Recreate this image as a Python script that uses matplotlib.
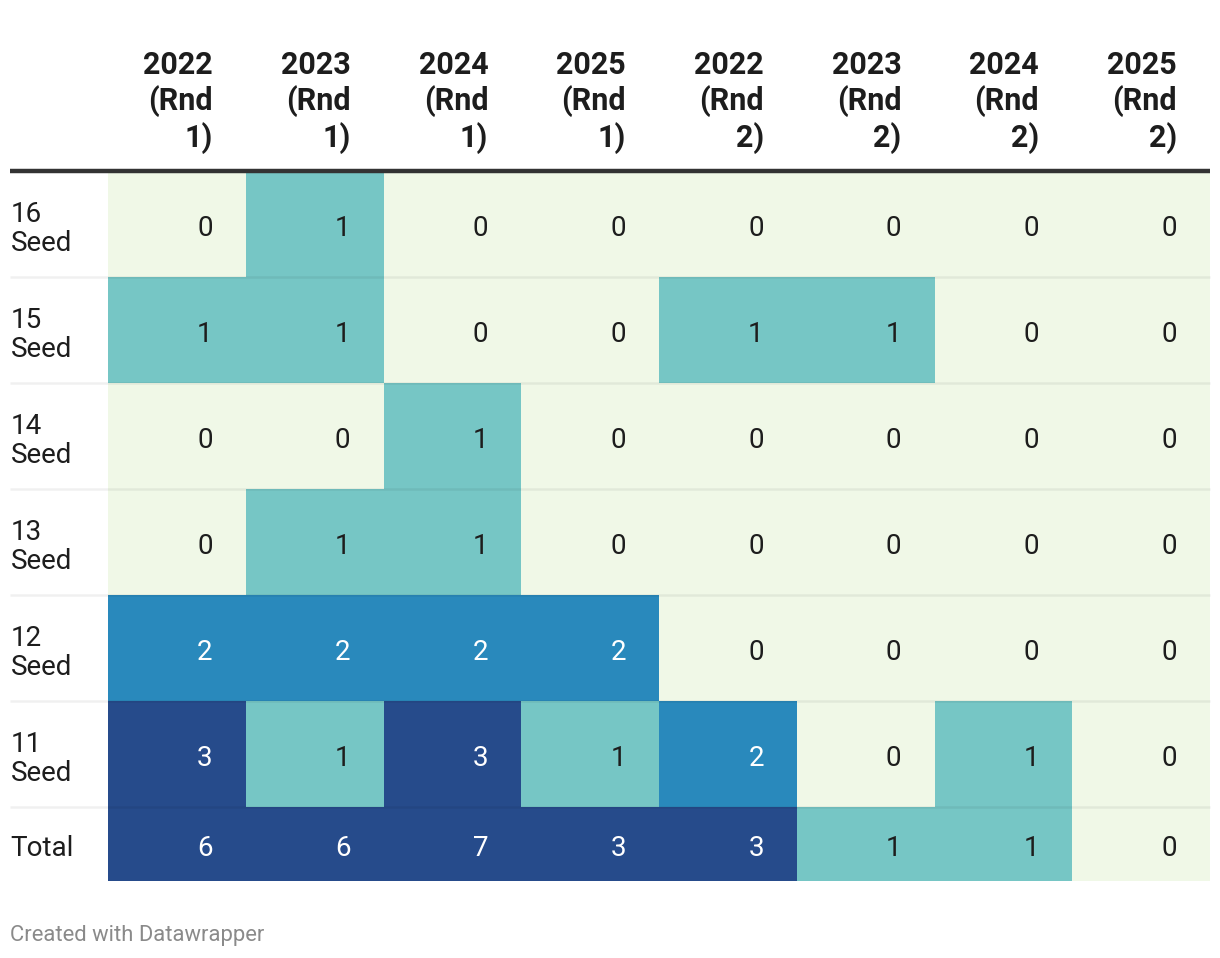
import numpy as np
import matplotlib
matplotlib.use("Agg")
import matplotlib.pyplot as plt
from matplotlib.colors import ListedColormap, BoundaryNorm

plt.rcParams['font.family'] = ['Roboto', 'DejaVu Sans']

columns = ["2022\n(Rnd\n1)", "2023\n(Rnd\n1)", "2024\n(Rnd\n1)", "2025\n(Rnd\n1)",
           "2022\n(Rnd\n2)", "2023\n(Rnd\n2)", "2024\n(Rnd\n2)", "2025\n(Rnd\n2)"]
rows = ["16\nSeed", "15\nSeed", "14\nSeed", "13\nSeed", "12\nSeed", "11\nSeed", "Total"]
seed16 = [0, 1, 0, 0, 0, 0, 0, 0]
seed15 = [1, 1, 0, 0, 1, 1, 0, 0]
seed14 = [0, 0, 1, 0, 0, 0, 0, 0]
seed13 = [0, 1, 1, 0, 0, 0, 0, 0]
seed12 = [2, 2, 2, 2, 0, 0, 0, 0]
seed11 = [3, 1, 3, 1, 2, 0, 1, 0]
total = [6, 6, 7, 3, 3, 1, 1, 0]
values = np.array([seed16, seed15, seed14, seed13, seed12, seed11, total])

# layout (pixels)
W, H = 1220, 958
table_left, label_right, table_right = 10, 108, 1210
header_y = 171
row_h, total_h = 106, 74
x_edges = np.linspace(label_right, table_right, len(columns) + 1)
y_edges = np.concatenate([header_y + np.arange(len(rows)) * row_h,
                          [header_y + (len(rows) - 1) * row_h + total_h]])

colors = ["#f0f8e7", "#76c6c5", "#2989bc", "#264b8b"]
cmap = ListedColormap(colors)
norm = BoundaryNorm([-0.5, 0.5, 1.5, 2.5, 100], cmap.N)

fig = plt.figure(figsize=(W / 100, H / 100), dpi=100)
ax = fig.add_axes([0, 0, 1, 1])
ax.set_xlim(0, W)
ax.set_ylim(H, 0)
ax.axis('off')

ax.pcolormesh(x_edges, y_edges, values, cmap=cmap, norm=norm, shading='flat')

# separators
for y in y_edges[1:-1]:
    ax.plot([table_left, table_right], [y, y], color="black", lw=1.8, alpha=0.06,
            solid_capstyle='butt', zorder=3)
ax.plot([table_left, table_right], [header_y, header_y], color="#333333", lw=3.2,
        solid_capstyle='butt', zorder=4)

pad = 33
fs = 20
for j, col in enumerate(columns):
    ax.text(x_edges[j + 1] - pad, 50, col, ha='right', va='top', fontsize=22,
            fontweight='bold', color="#1d1d1d", multialignment='right', linespacing=1.2)

for i, r in enumerate(rows):
    yc = (y_edges[i] + y_edges[i + 1]) / 2
    ax.text(10.5, yc + 5, r, ha='left', va='center', fontsize=fs, color="#1d1d1d",
            linespacing=1.05)
    for j in range(len(columns)):
        v = values[i, j]
        c = "white" if v >= 2 else "#1d1d1d"
        ax.text(x_edges[j + 1] - pad, yc + 4, str(v), ha='right', va='center',
                fontsize=fs, color=c)

ax.text(10, 935, "Created with Datawrapper", ha='left', va='center', fontsize=15.8,
        color="#8a8a8a")

fig.savefig("out.png", dpi=100)
